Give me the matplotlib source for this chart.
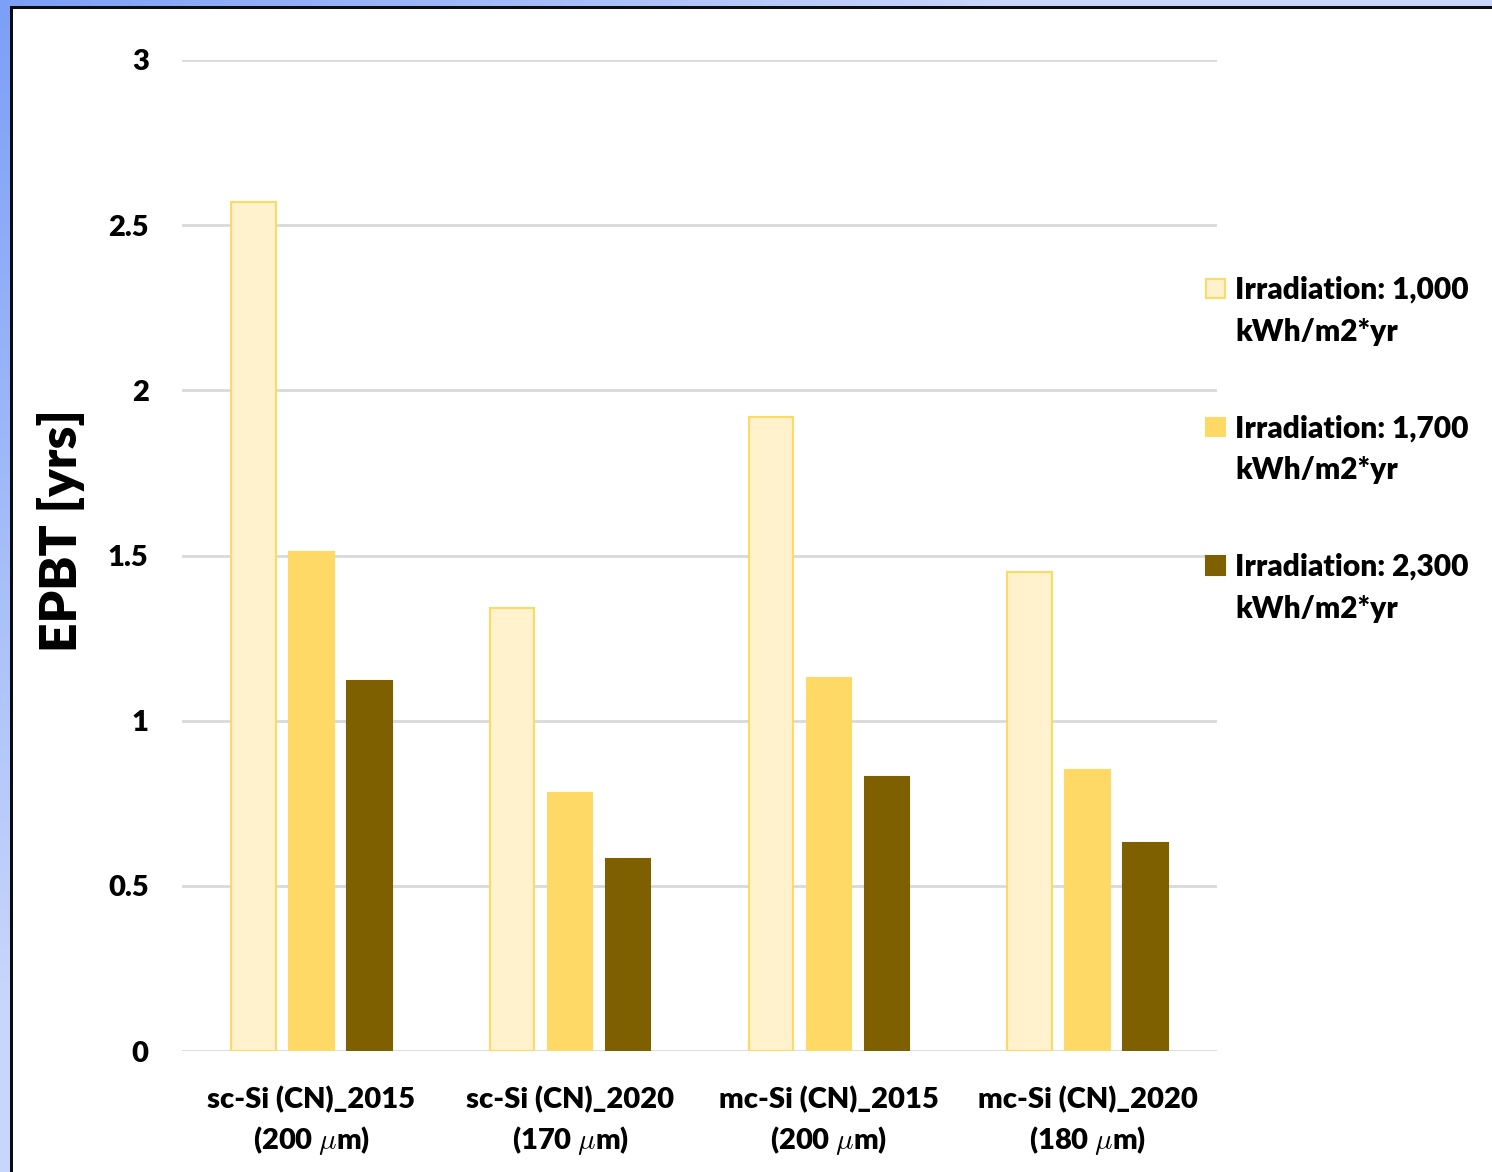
import numpy as np
import matplotlib
matplotlib.use("Agg")
import matplotlib.pyplot as plt
from matplotlib.patches import Rectangle
from matplotlib.legend_handler import HandlerPatch

# EPBT の値（年）
categories = ["sc-Si (CN)_2015\n(200 $\\mu$m)",
              "sc-Si (CN)_2020\n(170 $\\mu$m)",
              "mc-Si (CN)_2015\n(200 $\\mu$m)",
              "mc-Si (CN)_2020\n(180 $\\mu$m)"]
irr_1000 = [2.57, 1.34, 1.92, 1.45]
irr_1700 = [1.51, 0.78, 1.13, 0.85]
irr_2300 = [1.12, 0.58, 0.83, 0.63]
series_labels = ["Irradiation: 1,000\nkWh/m2*yr",
                 "Irradiation: 1,700\nkWh/m2*yr",
                 "Irradiation: 2,300\nkWh/m2*yr"]
y_ticks = [0, 0.5, 1, 1.5, 2, 2.5, 3]
y_tick_labels = ["0", "0.5", "1", "1.5", "2", "2.5", "3"]

face_colors = ["#FFF2CC", "#FFD966", "#7F6000"]
edge_colors = ["#FFD966", "#FFD966", "#7F6000"]

plt.rcParams["font.family"] = ["Lato", "DejaVu Sans"]
plt.rcParams["font.weight"] = "heavy"
plt.rcParams["mathtext.fontset"] = "cm"

W, H = 1492, 1172
fig = plt.figure(figsize=(W / 100, H / 100), dpi=100)

# 枠（青のグラデーション＋黒線）
yy, xx = np.mgrid[0:H, 0:W]
t = np.clip(np.sqrt(xx ** 2 + yy ** 2) / 1000.0, 0, 1)[..., None]
c0 = np.array([0x7C, 0x9F, 0xF7]) / 255.0
c1 = np.array([0xC8, 0xD6, 0xFB]) / 255.0
rgb = c0 * (1 - t) + c1 * t
alpha = np.zeros((H, W, 1))
alpha[(xx < 10) | (yy < 6)] = 1.0
line = ((xx >= 10) & (xx < 13) & (yy >= 6)) | ((yy >= 6) & (yy < 9) & (xx >= 10))
alpha[line] = 1.0
rgb[line] = 0.05
img = np.concatenate([rgb, alpha], axis=2)
fig.figimage(img, 0, 0, origin="upper", zorder=0)

ax = fig.add_axes([182 / W, 1 - 1051 / H, (1217 - 182) / W, (1051 - 60) / H])
ax.patch.set_alpha(0)

x = np.arange(len(categories))
width = 0.172
step = 0.224
series = [irr_1000, irr_1700, irr_2300]
handles = []
for i, vals in enumerate(series):
    b = ax.bar(x + (i - 1) * step, vals, width, color=face_colors[i],
               edgecolor=edge_colors[i], linewidth=1.5, label=series_labels[i], zorder=3)
    handles.append(b)

ax.set_xlim(-0.5, len(categories) - 0.5)
ax.set_ylim(0, 3)
ax.set_yticks(y_ticks)
ax.set_yticklabels(y_tick_labels, fontsize=21)
ax.set_xticks(x)
ax.set_xticklabels(categories, fontsize=21, linespacing=1.45)
ax.tick_params(axis="y", length=0, pad=24)
ax.tick_params(axis="x", length=0, pad=25)
ax.grid(axis="y", color="#D9D9D9", linewidth=2, zorder=0)
for s in ax.spines.values():
    s.set_visible(False)
ax.set_ylabel("EPBT [yrs]", fontsize=37, fontweight="heavy")
ax.yaxis.set_label_coords(-0.094, 0.525)


class TopSquare(HandlerPatch):
    # 凡例の四角を1行目の高さに置く
    def create_artists(self, legend, orig_handle, xdescent, ydescent,
                       width, height, fontsize, trans):
        s = 0.62 * fontsize
        p = Rectangle((-xdescent, -ydescent + height - s + 0.08 * fontsize), s, s,
                      facecolor=orig_handle.get_facecolor(),
                      edgecolor=orig_handle.get_edgecolor(), linewidth=1.5)
        p.set_transform(trans)
        return [p]


patches = [h.patches[0] for h in handles]
leg = fig.legend(patches, series_labels, loc="upper left",
                 bbox_to_anchor=(1206 / W, 1 - 276 / H), frameon=False,
                 prop={"size": 21.5, "weight": "heavy"},
                 handler_map={Rectangle: TopSquare()},
                 handlelength=0.62, handleheight=2.9, handletextpad=0.35,
                 labelspacing=2.3, borderpad=0, borderaxespad=0)
for txt in leg.get_texts():
    txt.set_linespacing(1.6)

fig.savefig("out.png", dpi=100)
